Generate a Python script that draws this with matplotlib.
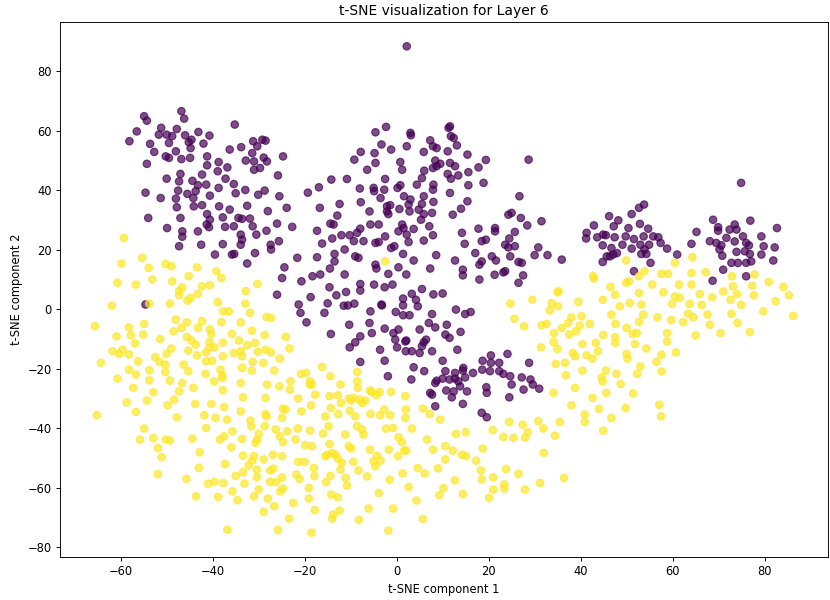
import numpy as np
import matplotlib
matplotlib.use("Agg")
import matplotlib.pyplot as plt

# Cluster 0 (purple) points: (x, y)
class0_points = [
    (-46.8,66.6),(-46.2,64.1),(-54.9,64.9),(-54.3,63.4),(-56.5,59.8),(-58.1,56.5),(-51.2,61.0),(-51.7,58.7),
    (-50.0,58.7),(-48.8,58.2),(-47.8,60.6),(-49.5,55.9),(-53.6,55.6),(-52.7,52.9),(-46.0,58.5),(-44.6,57.0),
    (-44.8,54.2),(-43.1,59.6),(-40.7,58.4),(-42.0,55.7),(-45.2,56.2),(-48.0,53.1),(-50.2,51.4),(-49.5,50.9),
    (-46.8,50.5),(-44.9,50.9),(-54.3,48.9),(-41.2,51.4),(-41.2,48.4),(-38.7,49.5),(-36.8,47.7),(-35.2,62.1),
    (-36.3,53.7),(-33.8,54.5),(-31.2,56.5),(-30.3,54.8),(-31.4,52.5),(-31.0,49.7),(-32.8,50.0),(-31.0,46.9),
    (-29.7,47.5),(-47.0,45.5),(-47.3,43.0),(-50.0,43.9),(-44.4,43.2),(-42.3,45.3),(-41.4,41.9),(-43.2,41.7),
    (-38.9,46.4),(-37.2,43.9),(-35.4,42.1),(-32.9,40.1),(-38.7,40.8),(-40.6,38.2),(-47.5,39.9),(-48.0,37.2),
    (-54.6,39.2),(-51.3,37.4),(-45.5,38.8),(-44.2,37.4),(-43.7,39.7),(-42.3,35.0),(-44.1,34.6),(-47.8,34.3),
    (-38.6,34.6),(-36.3,33.5),(-35.0,39.0),(-32.5,34.8),(-30.1,38.5),(-47.0,30.7),(-41.2,32.0),(-40.6,30.1),
    (-41.3,28.5),(-40.8,27.6),(-43.2,26.2),(-46.6,26.2),(-46.6,24.4),(-47.3,21.2),(-42.5,21.7),(-54.0,30.7),
    (-49.9,27.3),(-37.8,30.9),(-37.3,27.7),(-35.4,27.9),(-34.4,30.7),(-33.6,30.4),(-31.9,30.5),(-31.3,27.9),
    (-33.9,25.1),(-33.6,23.4),(-33.9,21.7),(-30.5,25.1),(-37.8,21.9),(-35.8,18.4),(-35.3,18.6),(-39.5,18.4),
    (-30.8,18.9),(-32.5,15.4),
    (2.2,88.4),(-29.2,57.0),(-28.5,56.7),(-28.9,51.0),(-28.2,49.7),(-24.7,51.4),(-25.8,45.0),(-28.7,39.9),
    (-25.5,38.0),(-23.9,34.1),(-28.0,33.0),(-26.0,28.8),(-22.7,27.7),(-28.3,26.4),(-27.4,21.7),(-27.3,20.1),
    (-25.6,22.9),(-24.4,14.1),(-21.6,17.3),(-19.3,39.2),(-16.9,41.0),(-14.2,43.6),(-10.8,43.8),(-16.7,34.1),
    (-12.4,35.4),(-12.9,31.5),(-14.4,28.8),(-13.7,28.5),(-17.3,26.4),(-16.2,22.1),(-14.0,23.8),(-12.0,24.9),
    (-10.2,24.9),(-8.6,25.7),(-7.9,27.1),(-9.3,22.9),(-7.2,22.9),(-11.3,20.1),(-13.5,18.6),(-13.5,16.1),
    (-17.3,17.5),(-9.0,17.8),(-8.3,17.3),(-14.5,13.7),(-9.2,50.3),(-6.4,46.9),(-4.6,49.2),(-7.8,52.9),
    (-4.8,52.5),(-4.6,59.5),(-3.3,55.4),(-2.3,61.3),(-1.2,53.7),(2.2,54.8),(3.0,59.3),(3.1,58.5),
    (0.8,49.5),(1.2,46.9),(-2.5,43.8),(-5.0,40.8),(-4.9,39.7),(-2.7,40.2),(-3.5,37.4),(0.2,40.8),
    (0.8,41.7),(1.6,38.0),(3.0,36.9),(-8.0,40.6),(-7.8,36.0),(-5.9,32.9),(-2.1,34.6),(-1.4,35.0),
    (-2.1,32.9),(-1.8,32.0),(0.6,33.7),(2.6,35.2),(2.8,32.9),(4.4,41.9),(5.5,44.1),(6.0,46.6),
    (7.3,56.8),(5.9,52.9),(7.9,54.8),(8.7,54.2),(8.4,50.0),(7.9,47.5),(8.7,48.1),(9.5,48.9),
    (11.3,61.0),(11.6,61.5),(11.8,58.2),(12.4,57.6),(11.1,53.1),(13.1,55.1),(11.6,49.2),(12.7,48.1),
    (11.1,45.5),(11.8,43.9),(13.4,45.0),(15.4,52.0),(15.6,46.1),(15.6,41.7),(17.8,47.7),(19.4,50.2),
    (18.9,42.5),(8.0,41.9),(7.9,40.2),(11.6,39.1),(5.9,38.0),(8.0,36.1),(5.5,35.4),(4.8,33.5),
    (5.9,32.0),(5.3,30.1),(7.7,32.4),(15.4,36.3),(14.0,33.8),(12.2,31.8),(7.1,27.9),(7.9,24.9),
    (5.9,23.1),(3.7,27.0),(1.2,28.5),(1.5,27.3),(2.2,25.1),(2.6,22.6),(0.4,26.2),(-0.5,21.2),
    (-1.2,20.6),(-2.5,24.5),(-4.6,22.3),(-3.9,22.6),(-5.7,28.5),(-3.9,28.5),(1.4,18.6),(3.7,16.4),
    (-4.6,15.0),(-4.4,13.7),(0.4,14.1),(8.6,18.2),(7.3,13.7),(12.7,16.4),(14.2,25.7),(14.8,22.0),
    (17.8,27.1),(18.5,22.9),(19.4,23.4),(21.4,27.3),(21.4,26.2),(17.1,18.9),(18.0,15.0),(18.5,16.1),
    (20.7,17.8),(21.6,16.4),(14.4,13.3),
    (28.7,50.3),(26.7,38.0),(24.3,31.8),(25.0,32.4),(27.0,30.7),(28.4,28.2),(31.5,29.6),(25.7,26.0),
    (24.5,23.8),(23.6,21.7),(24.3,20.8),(25.7,21.2),(24.7,17.8),(26.5,15.9),(27.2,15.6),(23.6,12.8),
    (23.2,12.4),(27.5,11.4),(26.5,8.9),(30.8,20.8),(30.0,18.2),(32.8,18.2),(35.9,16.7),
    (41.3,25.7),(41.2,23.8),(42.9,28.2),(43.6,24.2),(44.9,25.1),(45.5,24.9),(46.2,31.3),(47.2,27.9),
    (48.2,29.9),(47.4,24.2),(44.8,21.5),(46.7,20.6),(47.1,18.4),(46.4,17.8),(45.7,17.8),(47.9,18.9),
    (44.8,15.9),(49.1,21.7),(49.8,24.5),(50.4,27.3),(51.1,32.0),(52.7,34.1),(53.8,35.2),(52.9,28.7),
    (51.6,23.6),(51.1,20.4),(53.0,21.7),(53.7,24.5),(54.7,27.1),(55.8,24.5),(56.9,24.2),(54.9,21.7),
    (53.9,20.1),(54.3,18.6),(53.2,18.6),(55.2,15.6),(57.4,22.3),(58.8,20.4),(61.0,18.4),(51.6,12.8),
    (64.1,22.0),(65.2,26.0),(68.8,30.1),(69.9,27.6),(69.9,26.4),(68.1,22.9),(69.5,22.3),(70.2,20.1),
    (70.8,18.0),(70.6,21.5),(71.7,24.0),(72.4,26.8),(73.5,28.5),(73.9,26.8),(73.5,22.8),(73.9,19.3),
    (72.8,15.6),(74.2,15.6),(75.3,24.5),(76.0,22.3),(76.6,21.5),(75.7,19.5),(76.8,18.6),(77.1,16.1),
    (76.0,15.6),(74.9,42.5),(76.9,29.8),(79.3,24.5),(79.8,21.2),(79.3,18.4),(82.2,20.8),(81.9,16.4),
    (82.7,27.3),(71.0,13.3),(76.0,11.1),(68.7,9.6),
    (-54.6,1.6),
    (-24.9,10.5),(-20.7,9.4),(-18.3,11.1),(-16.6,11.7),(-11.3,11.7),(-1.8,11.9),(2.1,11.7),(-26.0,4.9),
    (-21.3,1.6),(-20.9,-1.2),(-18.7,4.1),(-19.6,-4.4),(-14.6,7.4),(-15.0,2.0),(-15.7,-1.2),(-13.1,4.7),
    (-11.0,5.8),(-11.5,1.2),(-10.6,1.3),(-9.2,1.9),(-7.9,8.5),(-7.9,6.3),(-4.9,8.3),(-2.6,7.4),
    (-0.9,8.3),(-5.7,-0.7),(-3.3,1.6),(-3.2,1.3),(-10.3,-5.2),(-14.3,-8.3),(-5.9,-4.6),(-5.4,-8.0),
    (-7.9,-9.1),(-9.0,-11.1),(-10.2,-12.8),(-2.6,-6.5),(-0.2,-0.9),(1.4,3.6),(1.4,1.3),(3.3,5.2),
    (4.2,3.2),(4.6,1.0),(1.4,-2.0),(2.8,-2.0),(-0.7,-8.0),(0.4,-6.8),(-0.3,-10.2),(0.1,-12.8),
    (1.9,-10.8),(2.1,-10.5),(2.0,-14.1),(3.3,-14.1),(5.0,-14.7),(5.5,-12.4),(5.9,-11.1),(5.0,-6.8),
    (6.4,-10.2),(7.7,-14.1),(5.5,6.8),(8.0,5.0),(10.0,5.3),(7.7,-1.6),(7.0,-4.6),(8.4,-6.1),
    (10.9,-5.2),(10.6,-8.5),(11.5,-9.6),(-7.9,-17.7),(-2.6,-17.3),(-3.6,-13.6),(3.7,-19.5),(6.0,-20.8),
    (-1.9,-22.5),(3.2,-23.6),(10.0,-17.3),(10.6,-20.8),(10.0,-23.3),(11.5,-23.6),(8.7,-24.0),(8.4,-24.8),
    (7.3,-28.1),(7.7,-28.7),(10.8,-27.3),(8.4,-32.6),
    (14.4,11.4),(18.0,10.0),(21.3,11.6),(12.9,-0.1),(14.9,-1.6),(16.1,-0.9),(13.9,-7.6),(13.2,-13.6),
    (24.1,-15.0),(20.5,-15.5),(18.7,-17.3),(20.5,-18.0),(22.3,-18.0),(18.6,-20.3),(20.3,-20.8),(22.3,-20.8),
    (23.2,-21.7),(16.6,-21.4),(14.5,-19.7),(14.4,-20.6),(12.7,-21.4),(12.7,-23.3),(13.4,-24.2),
    (14.9,-22.9),(13.8,-25.9),(15.3,-27.6),(12.4,-27.6),(12.0,-29.6),(14.4,-31.8),(19.5,-26.2),(19.6,-28.1),
    (24.7,-22.5),(25.0,-25.3),(27.2,-22.9),(27.6,-27.0),(28.8,-18.0),(29.1,-23.6),(29.6,-25.3),(31.0,-26.7),
    (24.5,-29.6),(18.5,-34.8),(19.6,-36.3),
]

# Cluster 1 (yellow) points: (x, y)
class1_points = [
    (-59.3,24.0),(-55.3,17.3),(-59.8,15.4),(-53.9,13.9),(-50.2,15.2),(-49.0,14.5),(-43.4,14.1),(-39.2,12.8),
    (-2.5,16.1),
    (49.9,16.4),(60.5,15.6),(64.3,17.5),(42.7,11.1),(42.9,10.3),(46.5,7.5),(49.9,8.9),(50.5,9.4),
    (52.7,11.1),(53.9,12.8),(55.6,8.3),(57.6,11.9),(59.0,11.9),(61.4,8.3),(64.1,12.2),(64.1,8.3),
    (67.2,12.5),(72.9,11.1),(73.1,7.7),(77.8,11.7),(77.3,7.9),(80.9,9.2),(84.1,7.5),(35.2,6.1),
    (-60.7,8.9),(-56.7,8.3),(-53.1,10.0),(-48.8,9.4),(-47.3,6.1),(-46.6,7.4),(-47.3,4.7),(-45.2,11.1),
    (-43.2,5.2),(-42.3,7.7),(-40.6,8.1),(-45.5,2.9),(-44.8,3.8),(-38.1,10.5),(-32.8,6.1),(-30.3,8.5),
    (-61.9,1.2),(-53.8,1.9),(-49.3,1.9),(-38.9,2.4),(-32.9,1.9),(-37.7,-0.7),(-36.5,-0.7),(-31.9,-1.2),
    (-65.6,-5.7),(-58.2,-6.1),(-54.9,-4.9),(-48.0,-3.5),(-45.6,-4.4),(-46.8,-6.3),(-48.5,-7.4),(-42.3,-4.0),
    (-43.2,-6.3),(-40.6,-6.8),(-40.3,-8.3),(-38.1,-4.3),(-33.9,-4.4),(-31.5,-7.2),(-60.9,-9.1),(-57.8,-8.7),
    (-55.1,-8.5),(-56.9,-11.5),(-51.4,-10.0),(-45.6,-9.3),(-44.6,-10.5),(-43.7,-11.9),(-40.7,-11.0),(-40.8,-13.0),
    (-39.6,-12.8),(-37.8,-11.2),(-35.8,-8.3),(-34.3,-10.5),(-32.5,-12.1),(-30.8,-11.3),(-30.2,-14.3),(-61.8,-14.1),
    (-59.6,-13.6),(-60.3,-15.0),(-58.2,-15.2),(-64.3,-18.0),(-56.2,-17.5),(-52.5,-16.1),(-51.6,-17.7),(-50.3,-18.6),
    (-50.0,-15.0),(-49.0,-13.2),(-45.3,-13.9),(-43.4,-15.5),(-41.4,-14.5),(-40.1,-17.3),(-41.4,-17.5),(-37.8,-15.8),
    (-35.4,-14.7),(-33.9,-14.1),(-33.6,-15.8),(-31.3,-17.7),(-58.2,-20.3),(-56.7,-22.0),(-53.8,-20.5),(-50.3,-21.1),
    (-46.3,-18.6),(-45.3,-20.8),(-41.5,-21.7),(-38.3,-20.3),(-37.9,-22.2),(-37.9,-23.1),(-33.6,-19.7),(-31.5,-20.6),
    (-60.7,-23.3),(-53.8,-23.9),(-49.3,-24.0),(-46.6,-24.8),(-39.7,-24.2),(-33.9,-24.8),(-57.3,-26.4),(-52.9,-27.9),
    (-47.3,-27.6),(-48.4,-30.4),(-44.2,-26.4),(-37.8,-27.2),(-33.4,-29.6),(-58.7,-31.3),(-54.3,-30.7),(-49.8,-32.3),
    (-43.8,-31.8),(-40.3,-31.8),(-37.5,-32.9),(-33.9,-34.3),(-65.2,-35.6),(-56.7,-34.5),(-47.8,-36.3),(-41.8,-35.6),
    (-39.4,-36.5),(-36.9,-37.1),(-31.8,-37.4),
    (-54.9,-40.1),(-55.8,-43.8),(-52.9,-43.3),(-50.2,-43.8),(-49.3,-44.1),(-51.9,-46.6),(-51.1,-49.7),(-51.9,-55.4),
    (-44.4,-43.5),(-41.4,-39.9),(-42.8,-48.1),(-43.0,-53.3),(-45.7,-57.0),(-41.0,-58.6),(-39.6,-58.0),(-37.7,-58.4),
    (-43.6,-62.9),(-38.8,-63.1),(-38.4,-43.8),(-37.5,-42.7),(-35.7,-41.0),(-33.6,-43.6),(-35.9,-46.4),(-37.3,-52.0),
    (-33.4,-49.2),(-35.0,-56.0),(-33.4,-54.8),(-33.1,-58.6),(-35.7,-61.2),(-34.6,-64.2),(-31.0,-62.9),(-32.2,-52.5),
    (-31.4,-50.9),(-31.0,-49.4),(-30.4,-53.9),(-30.4,-56.5),(-30.7,-44.9),(-30.3,-43.8),(-31.6,-39.3),(-30.0,-41.9),
    (-30.0,-60.6),(-36.8,-74.1),
    (-28.3,-2.6),(-27.3,-2.9),(-28.7,-8.7),(-24.1,-9.3),(-28.5,-13.6),(-27.3,-14.5),(-23.3,-13.2),(-25.4,-16.6),
    (-29.0,-18.0),(-26.6,-20.6),(-28.2,-25.3),(-25.5,-25.9),(-23.1,-24.2),(-23.2,-27.0),(-20.8,-21.7),(-19.7,-21.4),
    (-18.8,-24.2),(-18.9,-25.3),(-18.4,-25.3),(-16.2,-19.4),(-14.4,-22.5),(-12.2,-25.3),(-8.6,-21.1),(-8.6,-24.2),
    (-8.4,-26.4),(-5.8,-27.3),(-5.4,-27.8),(-4.4,-28.9),(-3.7,-27.8),(-1.2,-27.8),(1.9,-29.2),(-28.5,-29.8),
    (-21.4,-30.0),(-17.7,-28.7),(-14.6,-29.2),(-12.8,-28.9),(-10.4,-30.0),(-9.9,-30.7),(-12.1,-31.5),(-9.3,-29.8),
    (-8.0,-30.4),(-6.8,-30.7),(-7.5,-31.5),(-24.7,-33.4),(-24.2,-33.7),(-20.7,-34.3),(-18.6,-32.3),(-14.3,-33.2),
    (-15.5,-36.0),(-12.7,-35.2),(-10.2,-34.1),(-9.0,-36.0),(-5.7,-35.2),(-3.6,-35.6),(-2.7,-33.7),(-1.4,-35.6),
    (2.0,-33.7),(1.9,-36.5),(5.7,-33.4),(7.2,-35.2),(9.5,-37.1),(-28.5,-35.2),(-28.3,-36.0),(-24.9,-36.5),
    (24.7,1.9),(29.5,3.2),(25.6,-3.2),(27.7,-5.7),(35.0,5.7),(33.7,2.1),(35.1,1.0),(33.3,-0.4),
    (39.5,2.5),(31.5,-5.4),(32.6,-4.9),(34.2,-8.0),(35.9,-6.3),(37.3,-4.6),(38.0,-2.7),(40.2,-2.4),
    (37.5,-8.5),(39.0,-7.4),(39.8,-5.5),(42.0,-4.9),(44.8,3.2),(47.5,4.9),(48.5,1.0),(50.7,2.1),
    (52.7,5.5),(53.2,1.6),(53.6,-1.8),(46.7,-1.8),(47.6,-4.9),(52.7,-4.3),(50.0,-6.3),(51.3,-8.3),
    (52.2,-8.0),(44.9,-8.7),(47.5,-9.4),(47.5,-11.3),(51.8,-11.7),(54.3,-13.2),(34.1,-11.0),(34.9,-13.3),
    (31.4,-12.8),(40.4,-11.7),(43.3,-11.3),(43.8,-14.1),(38.3,-14.7),(38.8,-15.8),(41.3,-15.5),(42.6,-16.6),
    (50.0,-15.0),(50.2,-16.6),(34.6,-18.4),(36.6,-18.0),(40.4,-20.6),(45.5,-20.6),(47.8,-21.7),(53.0,-19.2),
    (52.3,-21.7),(36.8,-22.2),(44.6,-22.9),(44.8,-24.2),(48.7,-25.1),(34.1,-28.1),(38.8,-26.4),(45.6,-28.1),
    (51.4,-28.3),(42.6,-29.8),(38.0,-32.3),(44.0,-33.5),(49.8,-33.2),(40.9,-35.4),(40.9,-37.9),(46.7,-36.5),
    (24.5,-37.9),(27.4,-38.8),(28.5,-41.3),(30.8,-37.6),(31.9,-40.1),(35.5,-37.9),(20.9,-40.6),(23.2,-42.9),
    (12.9,-41.9),(15.0,-41.3),(25.4,-43.2),(27.9,-43.2),(34.4,-42.5),(44.9,-40.8),
    (-28.7,-39.3),(-26.3,-40.4),(-23.8,-41.0),(-21.5,-40.1),(-25.4,-42.7),(-24.7,-44.6),(-22.0,-43.8),
    (-18.8,-40.8),(-16.0,-41.8),(-14.8,-39.3),(-11.2,-42.1),(-8.6,-39.3),(-7.5,-40.4),(-7.2,-42.1),(-2.3,-40.1),
    (-0.8,-39.9),(3.3,-40.1),(0.4,-43.0),(1.1,-44.6),(1.6,-47.5),(2.1,-47.5),(6.6,-43.8),(10.6,-46.0),
    (7.9,-47.2),(10.6,-50.5),(9.0,-53.5),(6.1,-55.2),(4.6,-53.4),(1.3,-55.2),(10.2,-60.1),(9.3,-62.5),
    (4.3,-64.3),(2.6,-59.8),(-1.7,-47.2),(0.3,-49.4),(-4.3,-49.2),(-3.5,-50.9),(-5.0,-51.1),(-4.6,-52.8),
    (-5.8,-47.2),(-8.3,-54.2),(-6.4,-56.2),(-1.5,-57.3),(-3.9,-61.8),(-6.1,-67.0),(-0.8,-67.0),(5.7,-70.5),
    (-1.8,-74.4),(-8.2,-70.8),(-9.4,-51.3),(-12.2,-53.9),(-11.1,-56.7),(-10.8,-59.3),(-14.4,-56.0),(-15.3,-58.1),
    (-14.2,-62.3),(-12.8,-63.2),(-12.4,-67.7),(-13.8,-69.0),(-14.0,-70.4),(-17.8,-67.5),(-18.5,-75.1),(-19.1,-60.1),
    (-19.1,-63.6),(-18.0,-53.3),(-17.9,-56.1),(-20.0,-51.3),(-21.4,-51.3),(-21.8,-55.6),(-21.1,-57.0),(-19.9,-45.7),
    (-18.4,-46.0),(-14.6,-45.3),(-15.5,-49.4),(-15.0,-48.9),(-14.0,-48.3),(-13.3,-48.9),(-12.8,-50.2),(-11.9,-51.6),
    (-10.4,-46.0),(-9.9,-46.8),(-26.9,-48.9),(-24.9,-49.4),(-28.9,-50.5),(-26.8,-53.6),(-27.5,-54.2),(-24.9,-56.5),
    (-26.2,-58.1),(-27.5,-58.0),(-24.7,-60.3),(-25.3,-61.2),(-28.0,-63.6),(-26.6,-66.2),(-28.9,-68.1),(-22.5,-65.1),
    (-23.4,-70.4),(-25.8,-74.2),
    (12.2,-47.5),(14.2,-48.9),(15.1,-49.4),(18.7,-46.8),(17.3,-50.9),(18.3,-54.2),(18.5,-57.2),(21.0,-56.5),
    (23.8,-53.7),(26.5,-55.3),(32.0,-48.3),(23.4,-58.9),(23.4,-60.3),(21.0,-60.6),(20.1,-63.4),(12.7,-57.5),
    (14.4,-62.1),(27.9,-60.6),(31.2,-58.4),(36.4,-56.7),
    (58.0,5.7),(60.5,4.3),(61.6,3.8),(59.9,1.8),(63.7,1.8),(65.9,5.1),(68.6,4.0),(71.0,6.0),
    (72.6,3.2),(74.0,5.1),(77.7,4.7),(74.9,1.5),(66.3,1.5),(72.8,-1.5),(79.7,-0.7),(82.4,2.7),
    (85.3,4.7),(86.2,-2.2),(56.7,-2.7),(59.7,-3.6),(62.3,-4.3),(63.4,-1.5),(64.5,-2.7),(67.6,-1.8),
    (68.1,-5.2),(70.4,-8.0),(74.1,-4.6),(76.8,-7.7),(65.0,-8.8),(58.8,-8.0),(58.8,-10.8),(57.6,-15.3),
    (56.5,-17.7),(57.6,-20.9),(60.7,-14.5),(57.1,-32.1),(57.5,-36.0),
]

title = "t-SNE visualization for Layer 6"
xlabel = "t-SNE component 1"
ylabel = "t-SNE component 2"

c0 = np.array(class0_points)
c1 = np.array(class1_points)
x = np.concatenate([c0[:, 0], c1[:, 0]])
y = np.concatenate([c0[:, 1], c1[:, 1]])
labels = np.concatenate([np.zeros(len(c0)), np.ones(len(c1))])

fig = plt.figure(figsize=(10, 600 / 83), dpi=83)
ax = fig.add_axes([60 / 830, 1 - 557 / 600, 768 / 830, 535 / 600])
ax.scatter(x, y, c=labels, cmap="viridis", alpha=0.7, s=42)
ax.set_title(title)
ax.set_xlabel(xlabel)
ax.set_ylabel(ylabel)
fig.savefig("out.png", dpi=83)
